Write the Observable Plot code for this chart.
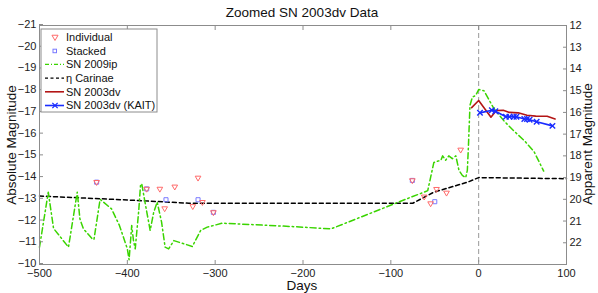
<!DOCTYPE html>
<html>
<head>
<meta charset="utf-8">
<script src="https://cdn.jsdelivr.net/npm/d3@7"></script>
<script src="https://cdn.jsdelivr.net/npm/@observablehq/plot@0.6"></script>
<style>
  html, body { margin: 0; padding: 0; background: white; }
  svg { display: block; }
</style>
</head>
<body>
<div id="chart"></div>
<script>
// ---------- data ----------
const titleText = "Zoomed SN 2003dv Data";
const xLabel = "Days";
const yLabel = "Absolute Magnitude";
const y2Label = "Apparent Magnitude";
const xTicks = [-500, -400, -300, -200, -100, 0, 100];
const yTicks = [-21, -20, -19, -18, -17, -16, -15, -14, -13, -12, -11, -10];
const apparentTicks = [12, 13, 14, 15, 16, 17, 18, 19, 20, 21, 22];
const distanceModulus = 33;
const legendLabels = ["Individual", "Stacked", "SN 2009ip", "η Carinae", "SN 2003dv", "SN 2003dv (KAIT)"];

// Individual detections (day, abs mag)
const individualDays = [-435, -378, -363, -357.5, -346, -325.5, -319.5, -314.5, -302, -75.5, -62, -54.7, -48, -36.6, -20.5];
const individualMags = [-13.79, -13.48, -13.48, -12.58, -13.58, -12.68, -13.99, -12.87, -12.4, -13.87, -13.12, -12.81, -13.47, -13.3, -15.28];
// Stacked detections
const stackedDays = [-435, -378, -356, -319.5, -302, -75.5, -50];
const stackedMags = [-13.79, -13.48, -12.98, -12.98, -12.4, -13.87, -12.89];
// SN 2009ip light curve
const ipDays = [-500, -490, -484, -467, -457, -454, -450, -440, -438, -431, -418, -409, -400, -398, -395, -393, -391, -387, -385, -383.6, -379.6, -374, -370, -366, -361, -357, -353, -347, -326, -316.5, -309, -292, -260, -214, -168, -77, -62, -58, -51, -43, -41, -37.6, -34, -30, -26, -22.4, -18.6, -14.8, -12.9, -11.7, -9.9, -7.2, -3.4, 0, 6, 17, 29, 40, 52, 63, 74];
const ipMags = [-10.8, -13.33, -11.66, -10.8, -13.33, -12.1, -11.64, -11.18, -11.15, -13.0, -12.56, -11.8, -10.72, -10.22, -11.8, -11.1, -10.72, -12.49, -13.64, -13.72, -12.8, -11.57, -12.4, -12.87, -11.95, -10.8, -10.72, -11.1, -10.83, -11.57, -11.72, -11.9, -11.84, -11.75, -11.64, -13.1, -13.33, -13.4, -14.7, -14.8, -15.0, -14.8, -15.0, -14.87, -15.0, -14.33, -14.1, -14.0, -14.33, -15.4, -17.32, -17.7, -17.78, -18.05, -18.0, -17.2, -16.6, -16.15, -15.7, -15.2, -14.3];
// eta Carinae
const etaDays = [-500, -400, -330, -75, -51, -12.5, 0, 100];
const etaMags = [-13.15, -12.97, -12.82, -12.82, -13.33, -13.79, -14.0, -13.95];
// SN 2003dv
const dvDays = [-8, 0, 14, 20, 28, 35, 45, 55, 65, 78, 87];
const dvMags = [-17.22, -17.55, -16.78, -17.09, -17.1, -17.0, -16.98, -16.87, -16.83, -16.82, -16.7];
// SN 2003dv (KAIT)
const kaitDays = [1.5, 15, 19, 31, 35, 40, 43, 52, 55, 58, 66, 84];
const kaitMags = [-16.98, -17.1, -17.05, -16.8, -16.8, -16.8, -16.8, -16.7, -16.7, -16.66, -16.57, -16.38];

// ---------- styles ----------
const cInd = "#ff6a6a", cStk = "#7a7aff", cIp = "#3ad400", cEta = "#000000", cDv = "#b31515", cKait = "#1a2cff";
const font = "Liberation Sans, Arial, Helvetica, sans-serif";

const zip = (xs, ys) => xs.map((x, i) => ({day: x, mag: ys[i]}));
const individual = zip(individualDays, individualMags);
const stacked = zip(stackedDays, stackedMags);
const ip = zip(ipDays, ipMags);
const eta = zip(etaDays, etaMags);
const dv = zip(dvDays, dvMags);
const kait = zip(kaitDays, kaitMags);

const W = 598, H = 293;
const plot = Plot.plot({
  width: W, height: H,
  marginLeft: 39, marginRight: 32, marginTop: 25, marginBottom: 29,
  style: {fontFamily: font, fontSize: "11px", background: "white", color: "#222"},
  x: {domain: [-500, 100]},
  y: {domain: [-10, -21]},
  marks: [
    Plot.ruleX([0], {stroke: "#9a9a9a", strokeDasharray: "5,3", strokeWidth: 1}),
    Plot.line(eta, {x: "day", y: "mag", stroke: cEta, strokeWidth: 1.5, strokeDasharray: "4,3"}),
    Plot.line(ip, {x: "day", y: "mag", stroke: cIp, strokeWidth: 1.5, strokeDasharray: "6,3,1.5,3"}),
    Plot.line(dv, {x: "day", y: "mag", stroke: cDv, strokeWidth: 1.6}),
    Plot.line(kait, {x: "day", y: "mag", stroke: cKait, strokeWidth: 1.6}),
    Plot.dot(kait, {x: "day", y: "mag", symbol: "times", r: 2.6, stroke: cKait, strokeWidth: 1.4}),
    Plot.dot(stacked, {x: "day", y: "mag", symbol: "square", r: 2.3, stroke: cStk, strokeWidth: 1}),
    Plot.dot(individual, {x: "day", y: "mag", symbol: "triangle", rotate: 180, r: 2.1, stroke: cInd, strokeWidth: 1}),
    Plot.frame({stroke: "#8c8c8c"}),
    Plot.axisX(xTicks, {anchor: "bottom", tickSize: -4, tickPadding: 9, stroke: "#8c8c8c", label: null, fill: "#222"}),
    Plot.axisX(xTicks, {anchor: "top", tickSize: -4, tickFormat: () => "", stroke: "#8c8c8c", label: null}),
    Plot.axisY(yTicks, {anchor: "left", tickSize: -4, tickPadding: 7, dy: -1, stroke: "#8c8c8c", label: null, fill: "#222"}),
    Plot.axisY(apparentTicks.map(t => t - distanceModulus), {anchor: "right", tickSize: -4, tickPadding: 7, stroke: "#8c8c8c", label: null, fill: "#222", tickFormat: d => String(d + distanceModulus)})
  ]
});
document.getElementById("chart").appendChild(plot);

// ---------- text & legend ----------
const svg = d3.select(plot);
svg.append("text").attr("x", 302).attr("y", 17).attr("text-anchor", "middle")
  .attr("font-family", font).attr("font-size", 13.5).attr("fill", "#111").text(titleText);
svg.append("text").attr("x", 302).attr("y", 290).attr("text-anchor", "middle")
  .attr("font-family", font).attr("font-size", 13.5).attr("fill", "#111").text(xLabel);
svg.append("text").attr("transform", "translate(16,145) rotate(-90)").attr("text-anchor", "middle")
  .attr("font-family", font).attr("font-size", 13.5).attr("fill", "#111").text(yLabel);
svg.append("text").attr("transform", "translate(592,144) rotate(-90)").attr("text-anchor", "middle")
  .attr("font-family", font).attr("font-size", 13.5).attr("fill", "#111").text(y2Label);

const lg = svg.append("g").attr("font-family", font).attr("font-size", 11).attr("text-anchor", "start");
lg.append("rect").attr("x", 41).attr("y", 29).attr("width", 116).attr("height", 83)
  .attr("fill", "white").attr("stroke", "#8c8c8c").attr("stroke-width", 1);
const rowY = i => 37 + i * 13.7;
legendLabels.forEach((lab, i) => {
  lg.append("text").attr("x", 66).attr("y", rowY(i)).attr("dy", "0.35em").attr("text-anchor", "start").attr("fill", "#111").text(lab);
});
// markers / line samples
lg.append("path").attr("d", d3.symbol(d3.symbolTriangle, 16)()).attr("transform", `translate(55,${rowY(0)}) rotate(180)`)
  .attr("fill", "none").attr("stroke", cInd);
lg.append("rect").attr("x", 53).attr("y", rowY(1) - 1.5).attr("width", 3.5).attr("height", 3.5).attr("fill", "none").attr("stroke", cStk);
const sample = (i, color, dash, w) => lg.append("line").attr("x1", 45).attr("x2", 64).attr("y1", rowY(i)).attr("y2", rowY(i))
  .attr("stroke", color).attr("stroke-width", w).attr("stroke-dasharray", dash);
sample(2, cIp, "4,2,1,2", 1.3);
sample(3, cEta, "3,2.5", 1.4);
sample(4, cDv, null, 1.6);
sample(5, cKait, null, 1.6);
lg.append("path").attr("d", d3.symbol(d3.symbolTimes, 20)()).attr("transform", `translate(55,${rowY(5)})`)
  .attr("fill", "none").attr("stroke", cKait).attr("stroke-width", 1.3);
</script>
</body>
</html>
